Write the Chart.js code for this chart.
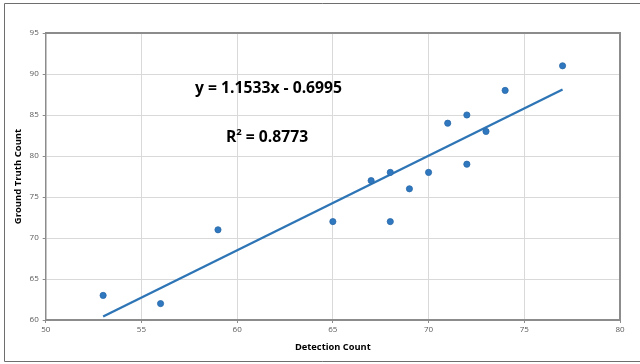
<!DOCTYPE html>
<html><head><meta charset="utf-8">
<script src="https://cdn.jsdelivr.net/npm/chart.js@4"></script>
<style>html,body{margin:0;padding:0;background:#fff}#wrap{width:640px;height:364px;position:relative}</style>
</head><body><div id="wrap"><canvas id="c" width="640" height="364"></canvas></div>
<script>
const detectionCount = [53, 56, 59, 65, 67, 68, 68, 69, 70, 71, 72, 72, 73, 74, 77];
const groundTruth    = [63, 62, 71, 72, 77, 78, 72, 76, 78, 84, 85, 79, 83, 88, 91];
const xTicks = [50, 55, 60, 65, 70, 75, 80];
const yTicks = [60, 65, 70, 75, 80, 85, 90, 95];
const slope = 1.1533, intercept = -0.6995;
const trendX = [53, 77];
const eqText = 'y = 1.1533x - 0.6995';
const r2Text = '0.8773';

const BLUE = '#2e75b6';
const TXT = "'Liberation Sans Narrow', 'Open Sans', sans-serif";

const scatterData = detectionCount.map((x, i) => ({x, y: groundTruth[i]}));
const trendData = trendX.map(x => ({x, y: slope * x + intercept}));

const framePlugin = {
  id: 'frame',
  beforeDraw(chart) {
    const ctx = chart.ctx;
    ctx.save();
    ctx.fillStyle = '#fff';
    ctx.fillRect(0, 0, chart.width, chart.height);
    ctx.strokeStyle = '#6e6e6e';
    ctx.lineWidth = 1;
    ctx.beginPath();
    ctx.moveTo(640, 3.5); ctx.lineTo(4.5, 3.5); ctx.lineTo(4.5, 361.5); ctx.lineTo(640, 361.5);
    ctx.stroke();
    ctx.restore();
  },
  afterDatasetsDraw(chart) {
    const ctx = chart.ctx, a = chart.chartArea;
    ctx.save();
    ctx.strokeStyle = '#8c8c8c';
    ctx.lineWidth = 2;
    ctx.beginPath();
    ctx.moveTo(a.left, a.top); ctx.lineTo(a.right, a.top); ctx.lineTo(a.right, a.bottom);
    ctx.stroke();
    // annotations
    ctx.fillStyle = '#000';
    ctx.textBaseline = 'middle';
    ctx.textAlign = 'center';
    ctx.font = "bold 15.7px " + TXT;
    ctx.fillText(eqText, 268.5, 89);
    // R^2
    const w1 = ctx.measureText('R').width;
    ctx.font = "bold 9.5px " + TXT;
    const w2 = ctx.measureText('2').width;
    ctx.font = "bold 15.7px " + TXT;
    const rest = ' = ' + r2Text;
    const w3 = ctx.measureText(rest).width;
    let sx = 267 - (w1 + w2 + w3) / 2;
    ctx.textAlign = 'left';
    ctx.fillText('R', sx, 138);
    ctx.font = "bold 9.5px " + TXT;
    ctx.fillText('2', sx + w1, 132.5);
    ctx.font = "bold 15.7px " + TXT;
    ctx.fillText(rest, sx + w1 + w2, 138);
    ctx.restore();
  }
};

new Chart(document.getElementById('c'), {
  type: 'scatter',
  data: {
    datasets: [
      {
        type: 'line',
        data: trendData,
        borderColor: BLUE,
        borderWidth: 2.4,
        pointRadius: 0,
        fill: false,
        order: 2
      },
      {
        data: scatterData,
        backgroundColor: '#2f78c0',
        borderColor: '#2a6aa8',
        pointRadius: 3.1,
        pointBorderWidth: 0.8,
        order: 1
      }
    ]
  },
  options: {
    responsive: false,
    animation: false,
    devicePixelRatio: 1,
    layout: {padding: {left: 5.7, top: 33, right: 20, bottom: 0}},
    plugins: {legend: {display: false}, tooltip: {enabled: false}},
    scales: {
      x: {
        type: 'linear',
        min: 50, max: 80,
        afterBuildTicks: ax => { ax.ticks = xTicks.map(v => ({value: v})); },
        afterFit: ax => { ax.height = 44; },
        grid: {color: '#d9d9d9', lineWidth: 1, tickLength: 3, tickColor: '#8c8c8c'},
        border: {color: '#8c8c8c', width: 2},
        ticks: {font: {family: "'Open Sans', sans-serif", size: 8}, color: '#595959', padding: 2, maxRotation: 0},
        title: {display: true, text: 'Detection Count', color: '#000',
          font: {family: TXT, size: 9.3, weight: 'bold'}, padding: {top: 0, bottom: 11.5}}
      },
      y: {
        type: 'linear',
        min: 60, max: 95,
        afterBuildTicks: ax => { ax.ticks = yTicks.map(v => ({value: v})); },
        afterFit: ax => { ax.width = 40; },
        grid: {color: '#d9d9d9', lineWidth: 1, tickLength: 3, tickColor: '#8c8c8c'},
        border: {color: '#8c8c8c', width: 1.5},
        ticks: {font: {family: "'Open Sans', sans-serif", size: 8}, color: '#595959', padding: 4},
        title: {display: true, text: 'Ground Truth Count', color: '#000',
          font: {family: TXT, size: 9.5, weight: 'bold'}, padding: {top: 6.8, bottom: 0}}
      }
    }
  },
  plugins: [framePlugin]
});
</script>
</body></html>
